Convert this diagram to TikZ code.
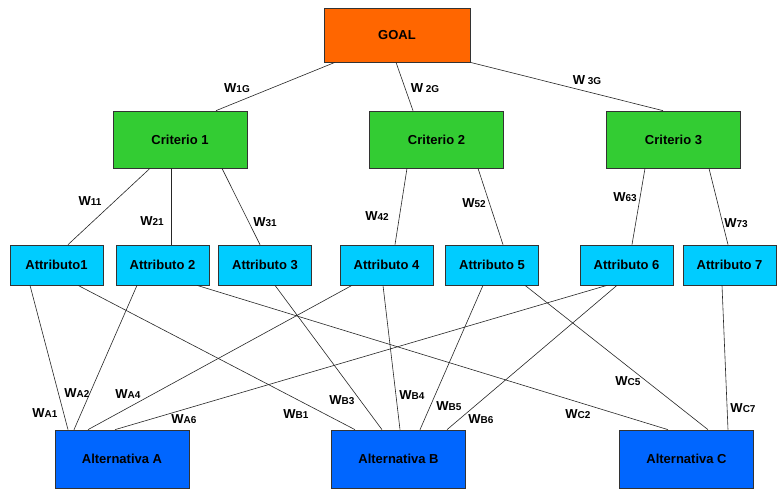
\documentclass[tikz,border=0pt]{standalone}
\usepackage{fontspec}
\setmainfont{Liberation Sans}
\definecolor{goalorange}{HTML}{FF6600}
\definecolor{critgreen}{HTML}{33CC33}
\definecolor{attrcyan}{HTML}{00CCFF}
\definecolor{altblue}{HTML}{0066FF}
\newcommand{\wgt}[1]{W{\fontsize{10}{11}\selectfont #1}}
\tikzset{
  box/.style={draw=black!80, line width=0.7pt, inner sep=0pt, font=\bfseries\fontsize{13}{15}\selectfont},
  goalbox/.style={box, fill=goalorange, minimum width=146pt, minimum height=54pt},
  critbox/.style={box, fill=critgreen, minimum width=134pt, minimum height=57pt},
  attrbox/.style={box, fill=attrcyan, minimum width=93pt, minimum height=40pt},
  altbox/.style={box, fill=altblue, minimum width=134pt, minimum height=58pt},
  weight/.style={inner sep=0pt, font=\bfseries\fontsize{13}{14}\selectfont},
  link/.style={draw=black!85, line width=0.6pt}
}
\begin{document}
\begin{tikzpicture}[x=1pt, y=-1pt]
\useasboundingbox[fill=white] (0,0) rectangle (777,490);
\node[goalbox] at (397,35) (goal) {GOAL};
\node[critbox] at (180,139.5) (crit1) {Criterio 1};
\node[critbox] at (436.5,139.5) (crit2) {Criterio 2};
\node[critbox] at (673.5,139.5) (crit3) {Criterio 3};
\node[attrbox] at (56.5,265) (attr1) {Attributo1};
\node[attrbox] at (162.5,265) (attr2) {Attributo 2};
\node[attrbox] at (265,265) (attr3) {Attributo 3};
\node[attrbox] at (386.5,265) (attr4) {Attributo 4};
\node[attrbox] at (492,265) (attr5) {Attributo 5};
\node[attrbox] at (626.5,265) (attr6) {Attributo 6};
\node[attrbox] at (729.5,265) (attr7) {Attributo 7};
\node[altbox] at (122,459) (altA) {Alternativa A};
\node[altbox] at (398.5,459) (altB) {Alternativa B};
\node[altbox] at (686.5,459) (altC) {Alternativa C};
\draw[link] ([xshift=-62pt]goal.south) -- ([xshift=36pt]crit1.north);
\draw[link] ([xshift=-1pt]goal.south) -- ([xshift=-23.5pt]crit2.north);
\draw[link] (goal.south east) -- ([xshift=-10.5pt]crit3.north);
\draw[link] ([xshift=-30pt]crit1.south) -- ([xshift=11.5pt]attr1.north);
\draw[link] ([xshift=-9pt]crit1.south) -- ([xshift=8.5pt]attr2.north);
\draw[link] ([xshift=42pt]crit1.south) -- ([xshift=-5pt]attr3.north);
\draw[link] ([xshift=-29.5pt]crit2.south) -- ([xshift=8.5pt]attr4.north);
\draw[link] ([xshift=41.5pt]crit2.south) -- ([xshift=11pt]attr5.north);
\draw[link] ([xshift=-28.5pt]crit3.south) -- ([xshift=5.5pt]attr6.north);
\draw[link] ([xshift=35.5pt]crit3.south) -- ([xshift=-1.5pt]attr7.north);
\draw[link] ([xshift=-26.5pt]attr1.south) -- ([xshift=-54pt]altA.north);
\draw[link] ([xshift=21.5pt]attr1.south) -- ([xshift=-43.5pt]altB.north);
\draw[link] ([xshift=-25.5pt]attr2.south) -- ([xshift=-48pt]altA.north);
\draw[link] ([xshift=34.5pt]attr2.south) -- ([xshift=-18.5pt]altC.north);
\draw[link] ([xshift=10pt]attr3.south) -- ([xshift=-16.5pt]altB.north);
\draw[link] ([xshift=-34.5pt]attr4.south) -- ([xshift=-34pt]altA.north);
\draw[link] ([xshift=-3.5pt]attr4.south) -- ([xshift=1.5pt]altB.north);
\draw[link] ([xshift=-9pt]attr5.south) -- ([xshift=21.5pt]altB.north);
\draw[link] ([xshift=33pt]attr5.south) -- ([xshift=21.5pt]altC.north);
\draw[link] ([xshift=-19.5pt]attr6.south) -- ([xshift=-7pt]altA.north);
\draw[link] ([xshift=-9.5pt]attr6.south) -- ([xshift=48.5pt]altB.north);
\draw[link] ([xshift=-7.5pt]attr7.south) -- ([xshift=41.5pt]altC.north);
\node[weight] at (237,88) (w1g) {\wgt{1G}};
\node[weight] at (425,88) (w2g) {\wgt{\ 2G}};
\node[weight] at (587,80) (w3g) {\wgt{\ 3G}};
\node[weight] at (90,201) (w11) {\wgt{11}};
\node[weight] at (152,221) (w21) {\wgt{21}};
\node[weight] at (265,222) (w31) {\wgt{31}};
\node[weight] at (377,216) (w42) {\wgt{42}};
\node[weight] at (474,203) (w52) {\wgt{52}};
\node[weight] at (625,197) (w63) {\wgt{63}};
\node[weight] at (736,223) (w73) {\wgt{73}};
\node[weight] at (45,413) (wa1) {\wgt{A1}};
\node[weight] at (77,393) (wa2) {\wgt{A2}};
\node[weight] at (128,394) (wa4) {\wgt{A4}};
\node[weight] at (184,419) (wa6) {\wgt{A6}};
\node[weight] at (296,414) (wb1) {\wgt{B1}};
\node[weight] at (342,400) (wb3) {\wgt{B3}};
\node[weight] at (412,395) (wb4) {\wgt{B4}};
\node[weight] at (449,406) (wb5) {\wgt{B5}};
\node[weight] at (481,419) (wb6) {\wgt{B6}};
\node[weight] at (578,414) (wc2) {\wgt{C2}};
\node[weight] at (628,381) (wc5) {\wgt{C5}};
\node[weight] at (743,408) (wc7) {\wgt{C7}};
\end{tikzpicture}
\end{document}
